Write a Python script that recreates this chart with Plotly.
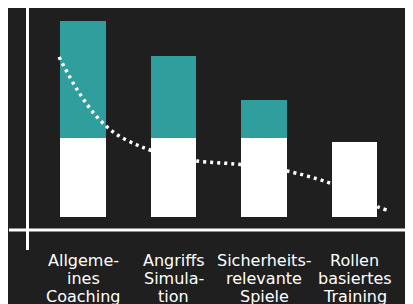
import plotly.graph_objects as go

categories = ["Allgeme-<br>ines<br>Coaching", "Angriffs<br>Simula-<br>tion",
              "Sicherheits-<br>relevante<br>Spiele", "Rollen<br>basiertes<br>Training"]
base_values = [39.5, 39.5, 39.5, 37.5]
extra_values = [58.5, 41, 19, 0]

trend_x = [-0.265, -0.055, 0.155, 0.365, 0.597, 0.74, 1.0, 1.26, 1.68, 1.98, 2.254, 2.696, 3.0, 3.26, 3.36]
trend_y = [80, 63, 50, 41.5, 36, 33.5, 30, 28, 26.5, 25, 23, 17.5, 12, 5, 3.5]

BG = "#1f1f1f"
TEAL = "#2f9e9c"
W, H = 413, 304
OFF = 8                      # page offset of the figure inside the window
plot_bottom = 230 - OFF      # figure px of the x-axis line
plot_h = plot_bottom

xs = list(range(len(categories)))

fig = go.Figure()
fig.add_trace(go.Bar(x=xs, y=base_values, width=0.5, marker=dict(color="white", line=dict(width=0))))
fig.add_trace(go.Bar(x=xs, y=extra_values, width=0.5, marker=dict(color=TEAL, line=dict(width=0))))
fig.add_trace(go.Scatter(x=trend_x, y=trend_y, mode="lines",
                         line=dict(color="white", width=3.5, dash="3px,4px", shape="spline")))

# category labels, one annotation per line for tight line spacing
annotations = []
line_gap = 18
first_center = 260 - OFF
for i, cat in enumerate(categories):
    for j, part in enumerate(cat.split("<br>")):
        yc = first_center + j * line_gap
        annotations.append(dict(x=i, xref="x", y=(plot_bottom - yc) / plot_h, yref="paper",
                                text=part, showarrow=False, xanchor="center", yanchor="middle",
                                font=dict(family="DejaVu Sans", size=16, color="white")))

fig.update_layout(
    width=W, height=H, barmode="stack", showlegend=False,
    paper_bgcolor=BG, plot_bgcolor=BG,
    margin=dict(l=0, r=0, t=0, b=H - plot_bottom, pad=0, autoexpand=False),
    font=dict(family="DejaVu Sans", color="white", size=16),
    xaxis=dict(range=[(OFF - 83) / 90.5, (W + OFF - 83) / 90.5], tickvals=xs,
               showticklabels=False, automargin=False,
               showgrid=False, zeroline=False, showline=False, ticks=""),
    yaxis=dict(range=[-6.5, -6.5 + plot_h / 2], showgrid=False, zeroline=False, showline=False,
               automargin=False, showticklabels=False, ticks=""),
    annotations=annotations,
    shapes=[
        dict(type="line", xref="paper", yref="paper", x0=(9 - OFF) / W, x1=1, y0=0, y1=0,
             line=dict(color="white", width=3)),
        dict(type="line", xref="paper", yref="paper", x0=(27.5 - OFF) / W, x1=(27.5 - OFF) / W,
             y0=-20 / plot_h, y1=(plot_h - (7 - OFF)) / plot_h,
             line=dict(color="white", width=3)),
    ],
)

fig.write_html("out.html")
